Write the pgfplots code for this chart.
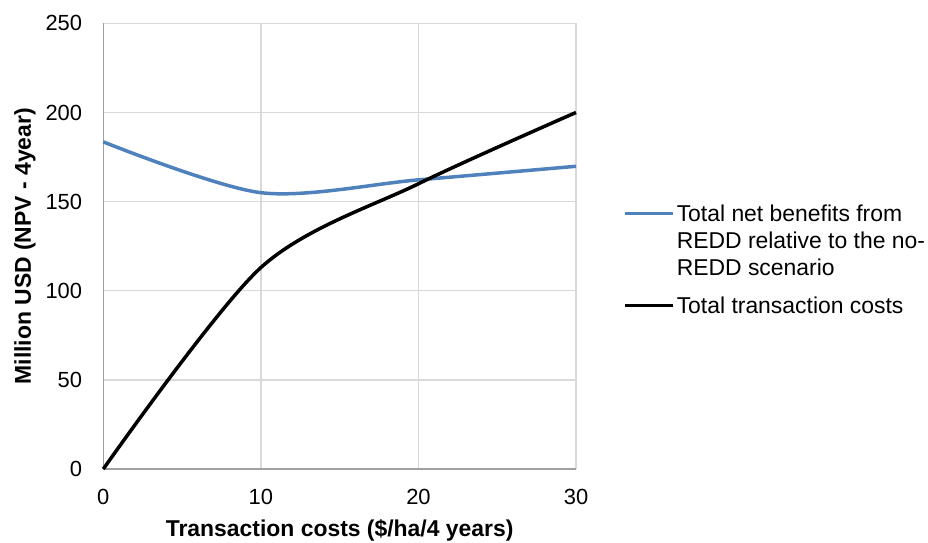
\documentclass[border=0pt]{standalone}
\usepackage{fontspec}
\setmainfont{Liberation Sans}
\usepackage{pgfplots}
\pgfplotsset{compat=1.18}

\definecolor{netblue}{RGB}{79,129,189}
\definecolor{gridgray}{RGB}{217,217,217}
\definecolor{axisgray}{RGB}{160,160,160}

% legend keys; a multi-line entry sits on its last line, so raise its key two lines
\pgfplotsset{
  key top/.style={legend image code/.code={\draw[##1] (0bp,62bp) -- (48bp,62bp);}},
  key one/.style={legend image code/.code={\draw[##1] (0bp,8bp) -- (48bp,8bp);}},
}

\pgfplotstableread{
x     y
0     183.5
10    155
20    162.2
30    169.8
}\netbenefits

\pgfplotstableread{
x     y
0     0
10    113
20    160
30    200
}\transcosts

\begin{document}
\begin{tikzpicture}
\begin{axis}[
  scale only axis,
  width=472.7bp, height=445.7bp,
  xmin=0, xmax=30, ymin=0, ymax=250,
  xtick={0,10,20,30},
  ytick={0,50,...,250},
  axis lines*=left,
  axis line style={draw=axisgray, line width=1.5bp},
  grid=major,
  major grid style={draw=gridgray, line width=1.3bp},
  major tick length=0pt,
  clip=false,
  /pgf/number format/assume math mode=true,
  tick label style={font=\fontsize{22}{26}\selectfont},
  yticklabel style={inner sep=0pt, xshift=-21bp},
  xticklabel style={inner sep=0pt, yshift=-19.5bp},
  xlabel={\textbf{Transaction costs (\$/ha/4 years)}},
  ylabel={\textbf{Million USD (NPV - 4year)}},
  label style={font=\fontsize{23}{27}\selectfont},
  xlabel style={at={(axis description cs:0.5,-0.1503)}, anchor=base},
  ylabel style={at={(axis description cs:-0.153,0.5)}, anchor=base},
  legend style={
    at={(rel axis cs:1.0995,0.5923)}, anchor=north west,
    draw=none, fill=none, inner sep=0pt,
    font=\fontsize{23}{27}\selectfont,
    column sep=2bp, row sep=20bp,
    nodes={inner sep=0pt},
    cells={anchor=base west, align=left},
  },
]
\addplot[netblue, line width=3.5bp, smooth, tension=0.5, key top]
  table[x=x, y=y] {\netbenefits};
\addlegendentry{Total net benefits from\\REDD relative to the no-\\REDD scenario}
\addplot[black, line width=3.5bp, smooth, tension=0.5, key one]
  table[x=x, y=y] {\transcosts};
\addlegendentry{Total transaction costs}
\coordinate (bl) at (rel axis cs:-0.2185,-0.1638);
\coordinate (tr) at (rel axis cs:1.7446,1.0523);
\end{axis}
\pgfresetboundingbox
\path (bl) rectangle (tr);
\end{tikzpicture}
\end{document}
